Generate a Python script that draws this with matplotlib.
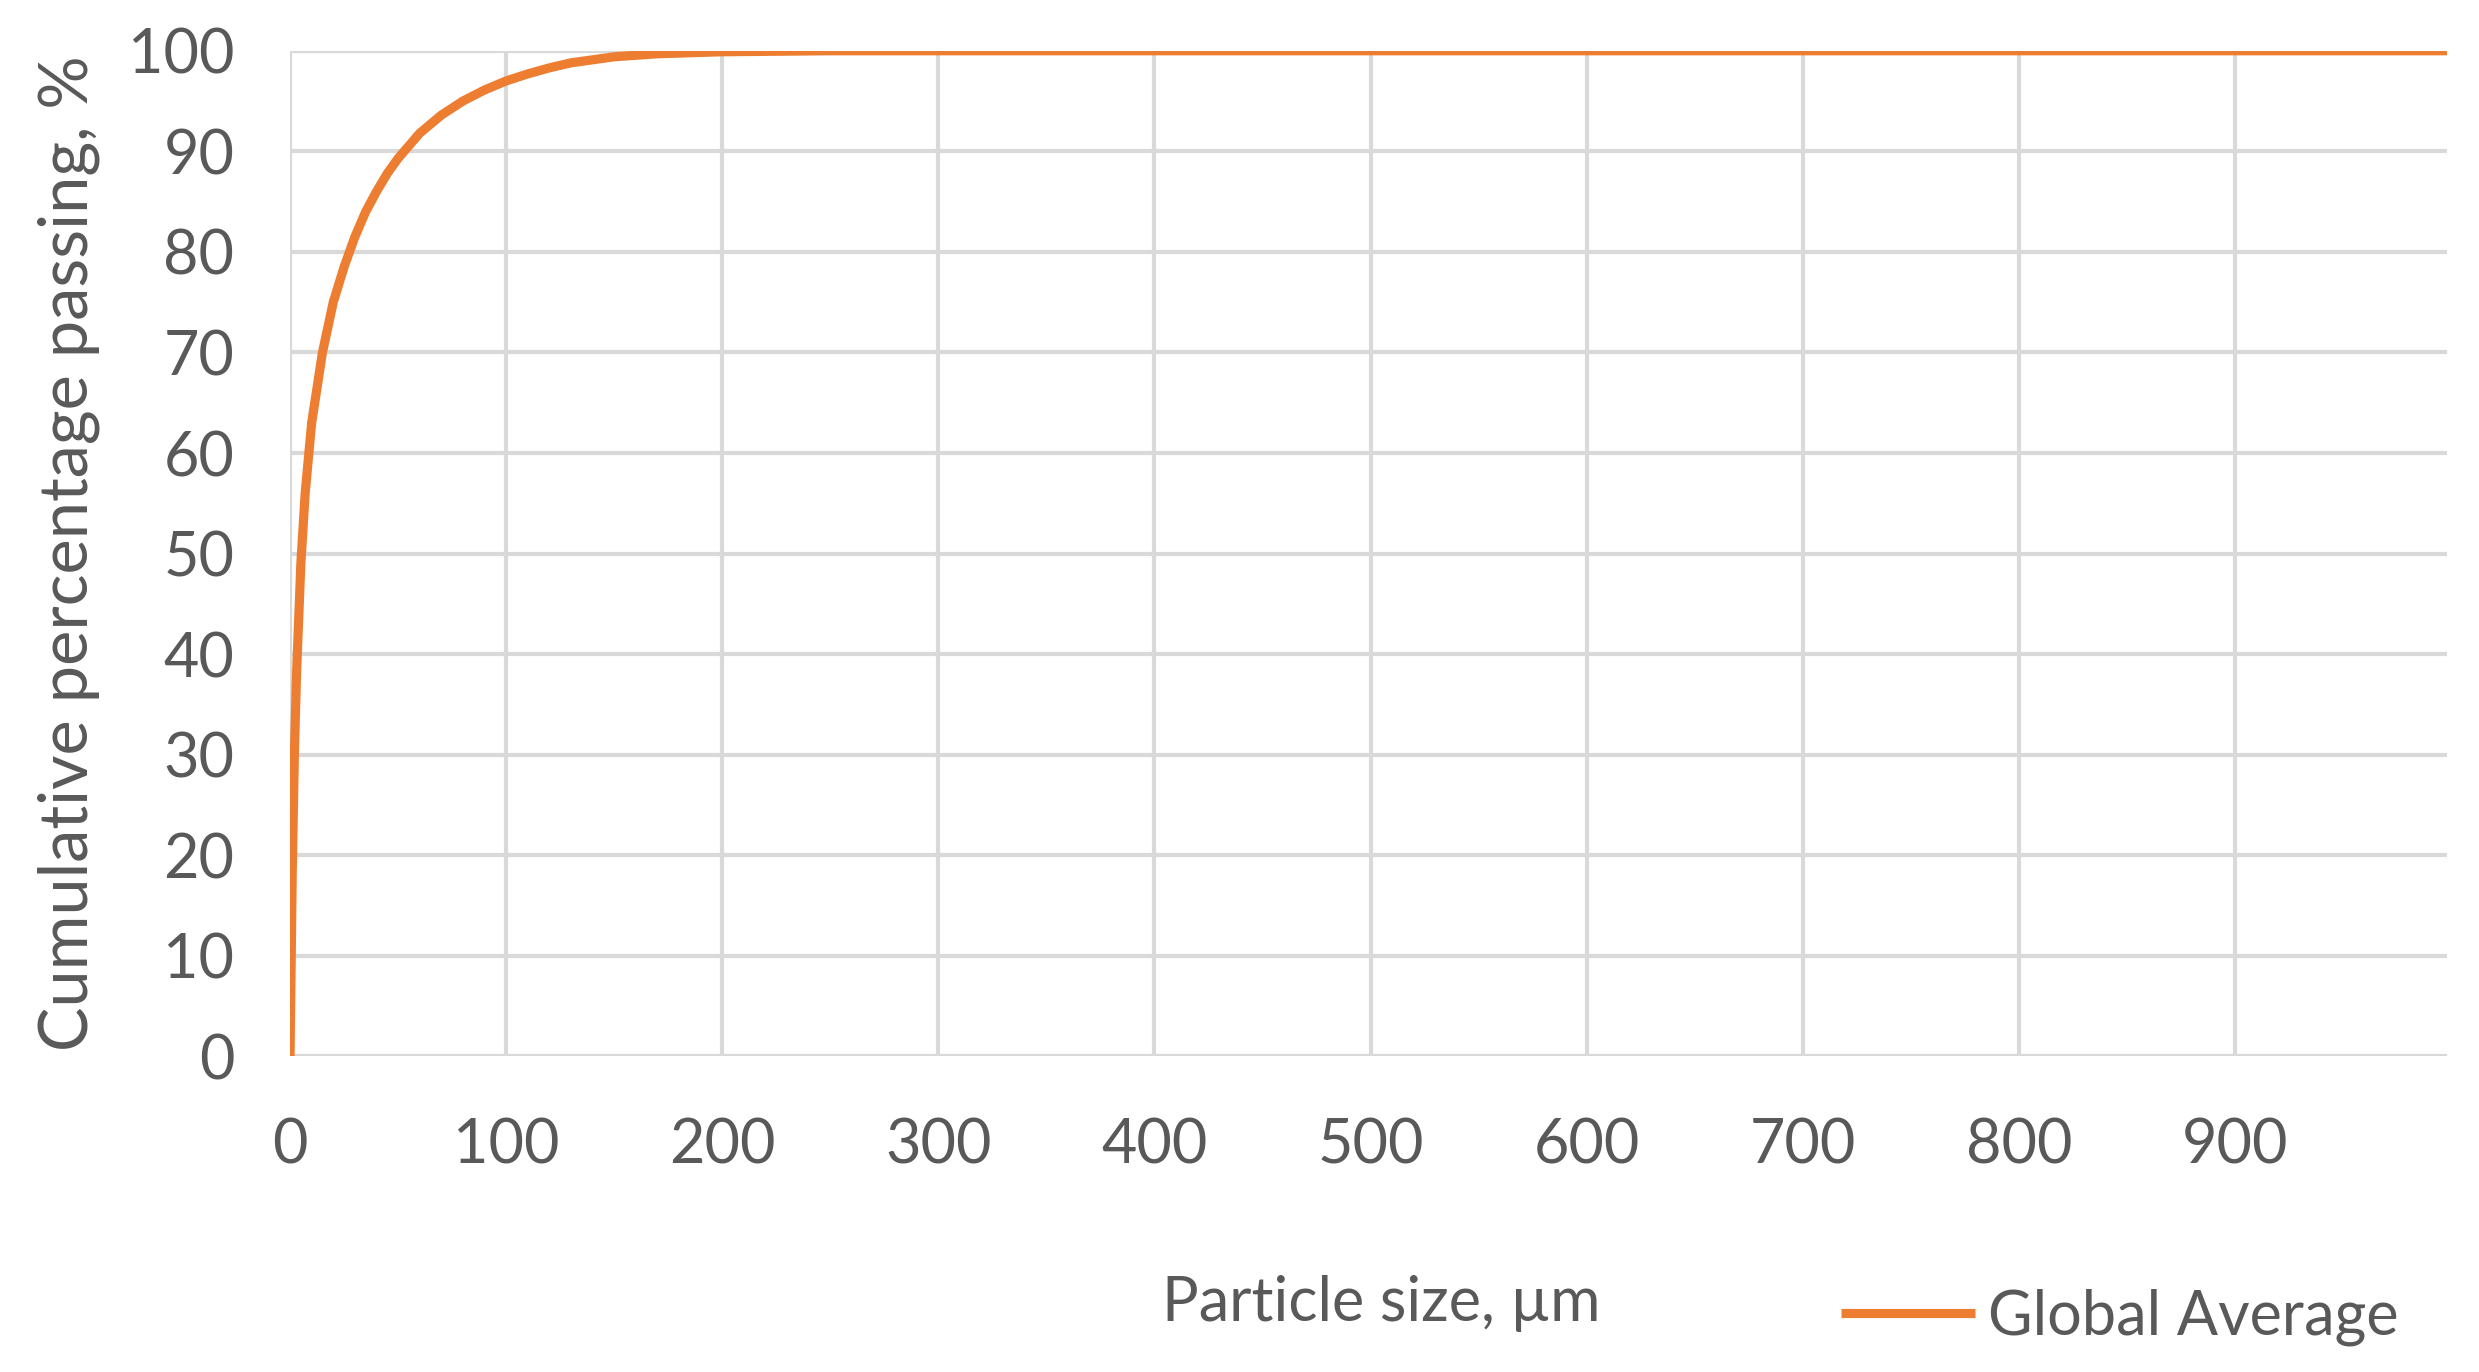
import matplotlib.pyplot as plt

# data
size_um = [0, 1, 2, 3, 5, 7, 10, 15, 20, 25, 30, 35, 40, 45, 50, 60, 70, 80, 90, 100,
           110, 120, 130, 150, 170, 200, 250, 300, 1000]
passing = [0, 18, 30, 38, 49, 56, 63, 70, 75, 78.5, 81.5, 84, 86, 87.8, 89.3, 91.8, 93.6,
           95, 96.1, 97, 97.7, 98.3, 98.8, 99.4, 99.7, 99.9, 100, 100, 100]
xticks = [0, 100, 200, 300, 400, 500, 600, 700, 800, 900]
yticks = [0, 10, 20, 30, 40, 50, 60, 70, 80, 90, 100]

plt.rcParams['font.family'] = ['Lato', 'DejaVu Sans']
txt = '#595959'

fig = plt.figure(figsize=(12.395, 6.86), dpi=200)
ax = fig.add_axes([0.117, 0.23, 0.87, 0.733])
ax.plot(size_um, passing, color='#ED7D31', lw=3.3, label='Global Average', solid_capstyle='butt')
ax.set_xlim(0, 998)
ax.set_ylim(0, 100)
ax.set_xticks(xticks)
ax.set_yticks(yticks)
ax.grid(True, color='#d9d9d9', lw=1.5)
ax.set_axisbelow(True)
for s in ax.spines.values():
    s.set_visible(False)
ax.tick_params(length=0, labelsize=22, labelcolor=txt)
ax.tick_params(axis='y', pad=20)
ax.tick_params(axis='x', pad=22)
ax.set_ylabel('Cumulative percentage passing, %', fontsize=24, color=txt, labelpad=10)
fig.text(0.557, 0.05, 'Particle size, µm', fontsize=22, color=txt, ha='center', va='center')
fig.legend(loc='center', bbox_to_anchor=(0.855, 0.04), frameon=False, fontsize=22,
           labelcolor=txt, handlelength=2.2, handletextpad=0.2)
fig.savefig('out.png', dpi=200)
